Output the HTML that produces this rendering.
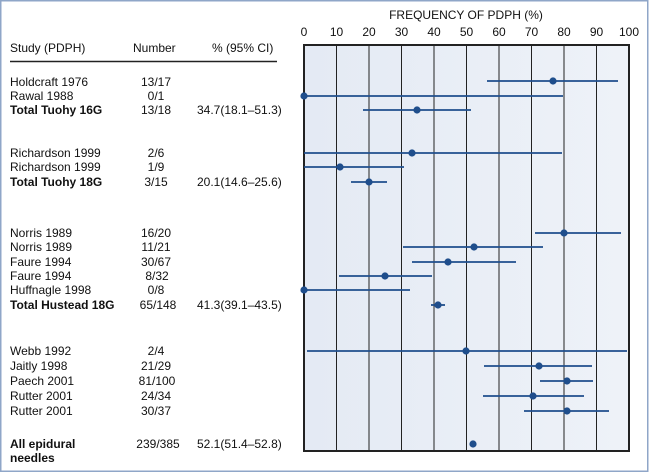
<!DOCTYPE html>
<html><head><meta charset="utf-8"><style>
html,body{margin:0;padding:0;background:#fff}
svg{display:block;font-family:"Liberation Sans",Arial,sans-serif}
</style></head><body>
<svg width="649" height="473" viewBox="0 0 649 473" xmlns="http://www.w3.org/2000/svg">
<defs>
<linearGradient id="bg" x1="0" y1="0" x2="1" y2="0">
<stop offset="0" stop-color="#e4eaf4"/><stop offset="1" stop-color="#eef2f8"/>
</linearGradient>
</defs>
<rect x="0" y="0" width="649" height="473" fill="#fff"/>
<rect x="0.75" y="0.75" width="647" height="470.5" fill="none" stroke="#8fa6c8" stroke-width="1.5"/>
<rect x="304" y="45" width="325" height="406" fill="url(#bg)"/>
<g stroke="#222" stroke-width="1">
<line x1="336.5" y1="45" x2="336.5" y2="451"/><line x1="369" y1="45" x2="369" y2="451"/>
<line x1="401.5" y1="45" x2="401.5" y2="451"/><line x1="434" y1="45" x2="434" y2="451"/>
<line x1="466.5" y1="45" x2="466.5" y2="451"/><line x1="499" y1="45" x2="499" y2="451"/>
<line x1="531.5" y1="45" x2="531.5" y2="451"/><line x1="564" y1="45" x2="564" y2="451"/>
<line x1="596.5" y1="45" x2="596.5" y2="451"/>
</g>
<rect x="304" y="45" width="325" height="406" fill="none" stroke="#222" stroke-width="2"/>
<g font-size="12" fill="#111">
<text x="466" y="19" text-anchor="middle">FREQUENCY OF PDPH (%)</text>
<g text-anchor="middle">
<text x="304" y="36">0</text><text x="336.5" y="36">10</text><text x="369" y="36">20</text>
<text x="401.5" y="36">30</text><text x="434" y="36">40</text><text x="466.5" y="36">50</text>
<text x="499" y="36">60</text><text x="531.5" y="36">70</text><text x="564" y="36">80</text>
<text x="596.5" y="36">90</text><text x="629" y="36">100</text>
</g>
<text x="10" y="52">Study (PDPH)</text><text x="133" y="52">Number</text><text x="212" y="52">% (95% CI)</text>
</g>
<line x1="10" y1="61.5" x2="277" y2="61.5" stroke="#222" stroke-width="1.5"/>
<g font-size="12" fill="#111">
<text x="10" y="86">Holdcraft 1976</text><text x="156" y="86" text-anchor="middle">13/17</text>
<text x="10" y="100">Rawal 1988</text><text x="156" y="100" text-anchor="middle">0/1</text>
<text x="10" y="114" font-weight="bold">Total Tuohy 16G</text><text x="156" y="114" text-anchor="middle">13/18</text><text x="197" y="114">34.7(18.1–51.3)</text>
<text x="10" y="157">Richardson 1999</text><text x="156" y="157" text-anchor="middle">2/6</text>
<text x="10" y="171">Richardson 1999</text><text x="156" y="171" text-anchor="middle">1/9</text>
<text x="10" y="186" font-weight="bold">Total Tuohy 18G</text><text x="156" y="186" text-anchor="middle">3/15</text><text x="197" y="186">20.1(14.6–25.6)</text>
<text x="10" y="237">Norris 1989</text><text x="156" y="237" text-anchor="middle">16/20</text>
<text x="10" y="251">Norris 1989</text><text x="156" y="251" text-anchor="middle">11/21</text>
<text x="10" y="266">Faure 1994</text><text x="156" y="266" text-anchor="middle">30/67</text>
<text x="10" y="280">Faure 1994</text><text x="157" y="280" text-anchor="middle">8/32</text>
<text x="10" y="294">Huffnagle 1998</text><text x="156" y="294" text-anchor="middle">0/8</text>
<text x="10" y="309" font-weight="bold">Total Hustead 18G</text><text x="158" y="309" text-anchor="middle">65/148</text><text x="197" y="309">41.3(39.1–43.5)</text>
<text x="10" y="355">Webb 1992</text><text x="156" y="355" text-anchor="middle">2/4</text>
<text x="10" y="370">Jaitly 1998</text><text x="156" y="370" text-anchor="middle">21/29</text>
<text x="10" y="385">Paech 2001</text><text x="157" y="385" text-anchor="middle">81/100</text>
<text x="10" y="400">Rutter 2001</text><text x="156" y="400" text-anchor="middle">24/34</text>
<text x="10" y="415">Rutter 2001</text><text x="156" y="415" text-anchor="middle">30/37</text>
<text x="10" y="448" font-weight="bold">All epidural</text><text x="10" y="462" font-weight="bold">needles</text>
<text x="158" y="448" text-anchor="middle">239/385</text><text x="197" y="448">52.1(51.4–52.8)</text>
</g>
<g stroke="#1f4e8c" stroke-width="1.8">
<line x1="487" y1="81" x2="618" y2="81"/>
<line x1="304" y1="96" x2="563" y2="96"/>
<line x1="363" y1="110" x2="471" y2="110"/>
<line x1="304" y1="153" x2="562" y2="153"/>
<line x1="304" y1="167" x2="404" y2="167"/>
<line x1="351" y1="182" x2="387" y2="182"/>
<line x1="535" y1="233" x2="621" y2="233"/>
<line x1="403" y1="247" x2="543" y2="247"/>
<line x1="412" y1="262" x2="516" y2="262"/>
<line x1="339" y1="276" x2="432" y2="276"/>
<line x1="304" y1="290" x2="410" y2="290"/>
<line x1="431" y1="305" x2="445" y2="305"/>
<line x1="307" y1="351" x2="627" y2="351"/>
<line x1="484" y1="366" x2="592" y2="366"/>
<line x1="540" y1="381" x2="593" y2="381"/>
<line x1="483" y1="396" x2="584" y2="396"/>
<line x1="524" y1="411" x2="609" y2="411"/>
</g>
<g fill="#1f4e8c">
<circle cx="553" cy="81" r="3.6"/><circle cx="304" cy="96" r="3.6"/><circle cx="417" cy="110" r="3.6"/>
<circle cx="412" cy="153" r="3.6"/><circle cx="340" cy="167" r="3.6"/><circle cx="369" cy="182" r="3.6"/>
<circle cx="564" cy="233" r="3.6"/><circle cx="474" cy="247" r="3.6"/><circle cx="448" cy="262" r="3.6"/>
<circle cx="385" cy="276" r="3.6"/><circle cx="304" cy="290" r="3.6"/><circle cx="438" cy="305" r="3.6"/>
<circle cx="466" cy="351" r="3.6"/><circle cx="539" cy="366" r="3.6"/><circle cx="567" cy="381" r="3.6"/>
<circle cx="533" cy="396" r="3.6"/><circle cx="567" cy="411" r="3.6"/><circle cx="473" cy="444" r="3.6"/>
</g>
</svg>
</body></html>
